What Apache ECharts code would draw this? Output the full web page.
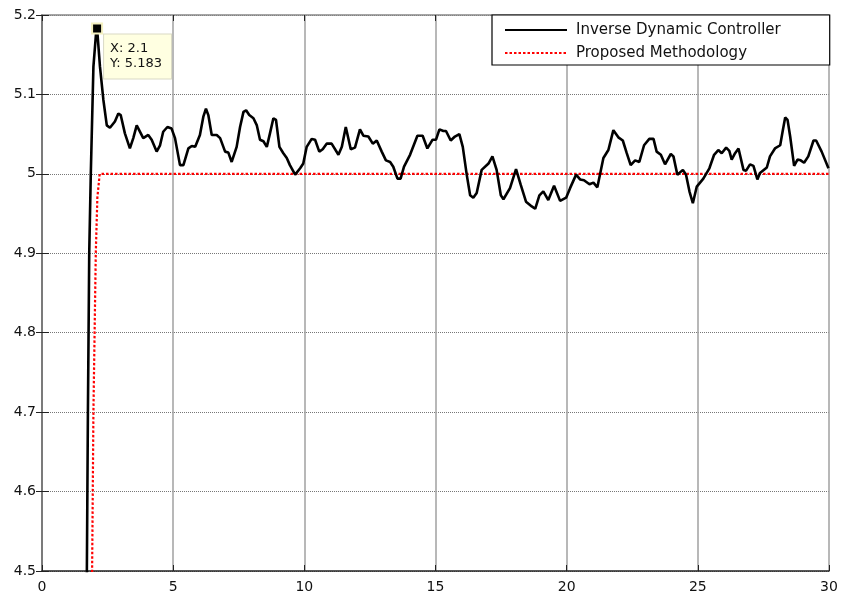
<!DOCTYPE html>
<html>
<head>
<meta charset="utf-8">
<script src="https://cdn.jsdelivr.net/npm/echarts@6/dist/echarts.min.js"></script>
<style>
  html, body { margin: 0; padding: 0; background: #fff; }
  #chart { width: 841px; height: 596px; }
</style>
</head>
<body>
<div id="chart"></div>
<script>
// Step response: inverse dynamic controller vs. proposed methodology
const seriesNames = ['Inverse Dynamic Controller', 'Proposed Methodology'];

const timeIDC = [1.66,1.71,1.75,1.80,1.86,1.96,2.06,2.1,2.21,2.34,2.47,2.59,2.78,2.91,3.0,3.16,3.35,3.48,3.61,3.67,3.86,4.05,4.18,4.37,4.50,4.62,4.78,4.94,5.07,5.26,5.39,5.58,5.71,5.84,6.02,6.15,6.25,6.34,6.47,6.66,6.79,6.98,7.10,7.23,7.29,7.42,7.55,7.68,7.78,7.90,8.06,8.19,8.31,8.44,8.57,8.69,8.82,8.92,9.05,9.20,9.33,9.45,9.65,9.84,9.96,10.09,10.28,10.41,10.57,10.70,10.85,11.04,11.30,11.43,11.58,11.77,11.93,12.12,12.25,12.44,12.61,12.76,12.95,13.11,13.27,13.39,13.55,13.67,13.80,14.03,14.31,14.51,14.69,14.89,15.02,15.15,15.30,15.40,15.58,15.74,15.91,16.04,16.19,16.32,16.44,16.57,16.76,17.02,17.17,17.33,17.49,17.59,17.84,18.07,18.25,18.45,18.67,18.80,18.96,19.11,19.30,19.52,19.75,19.98,20.13,20.36,20.51,20.66,20.87,21.02,21.17,21.40,21.59,21.78,21.97,22.14,22.29,22.44,22.61,22.77,22.95,23.15,23.31,23.43,23.59,23.75,23.97,24.07,24.22,24.43,24.55,24.68,24.81,24.96,25.21,25.44,25.62,25.78,25.91,26.08,26.20,26.29,26.42,26.55,26.74,26.84,26.99,27.12,27.27,27.37,27.63,27.75,27.94,28.14,28.24,28.33,28.42,28.52,28.67,28.80,28.92,29.05,29.21,29.41,29.51,29.72,29.98];
const valueIDC = [4.30,4.50,4.70,4.90,5.00,5.135,5.177,5.183,5.135,5.093,5.061,5.058,5.066,5.076,5.074,5.051,5.032,5.045,5.061,5.060,5.045,5.049,5.043,5.028,5.036,5.053,5.059,5.057,5.045,5.011,5.011,5.032,5.035,5.034,5.049,5.072,5.082,5.074,5.049,5.049,5.045,5.028,5.027,5.015,5.014,5.034,5.059,5.078,5.080,5.074,5.070,5.061,5.043,5.041,5.034,5.051,5.070,5.068,5.034,5.026,5.020,5.011,4.999,5.007,5.013,5.034,5.044,5.043,5.028,5.031,5.038,5.038,5.024,5.034,5.059,5.031,5.033,5.056,5.048,5.047,5.038,5.042,5.028,5.017,5.015,5.009,4.994,4.994,5.009,5.024,5.048,5.048,5.032,5.043,5.043,5.056,5.054,5.054,5.042,5.047,5.050,5.034,4.999,4.973,4.970,4.976,5.005,5.013,5.022,5.005,4.973,4.968,4.982,5.006,4.986,4.965,4.959,4.956,4.973,4.978,4.967,4.985,4.966,4.970,4.982,4.999,4.993,4.992,4.987,4.989,4.983,5.020,5.030,5.055,5.046,5.042,5.026,5.011,5.017,5.015,5.036,5.044,5.044,5.028,5.024,5.012,5.025,5.022,4.999,5.005,4.999,4.978,4.963,4.984,4.994,5.007,5.024,5.030,5.026,5.033,5.029,5.018,5.026,5.032,5.005,5.004,5.012,5.010,4.993,5.001,5.008,5.022,5.032,5.036,5.055,5.071,5.068,5.047,5.010,5.018,5.017,5.014,5.022,5.042,5.042,5.028,5.007];

const timeProposed = [1.85,1.91,1.96,2.05,2.11,2.2,30];
const valueProposed = [4.30,4.50,4.70,4.90,4.97,5.00,5.00];

// Data cursor on the overshoot peak
const peakX = 2.1;
const peakY = 5.183;

const xTicks = { min: 0, max: 30, interval: 5 };
const yTicks = { min: 4.5, max: 5.2, interval: 0.1 };

const pairs = (xs, ys) => xs.map((x, i) => [x, ys[i]]);
const FONT = 'DejaVu Sans';

const chart = echarts.init(document.getElementById('chart'), null, { renderer: 'canvas' });

const axisBase = {
  type: 'value',
  axisTick: { show: true, inside: true, length: 6, lineStyle: { color: '#222', width: 1 } },
  axisLabel: { color: '#111', fontFamily: FONT, fontSize: 14 }
};

chart.setOption({
  animation: false,
  backgroundColor: '#ffffff',
  grid: { left: 42, right: 12, top: 15, bottom: 25, containLabel: false },
  legend: {
    data: seriesNames,
    orient: 'vertical',
    left: 492,
    top: 15,
    backgroundColor: '#ffffff',
    borderColor: '#000000',
    borderWidth: 1.2,
    borderRadius: 0,
    padding: [7, 49, 4, 12],
    itemWidth: 62,
    itemHeight: 16,
    itemGap: 7,
    itemStyle: { opacity: 0 },
    textStyle: { fontFamily: FONT, fontSize: 15, color: '#111', lineHeight: 16, padding: [0, 0, 0, 4] }
  },
  xAxis: [
    Object.assign({}, axisBase, {
      position: 'bottom',
      min: xTicks.min, max: xTicks.max, interval: xTicks.interval,
      axisLine: { show: true, lineStyle: { color: '#222', width: 1.5 } },
      axisLabel: Object.assign({}, axisBase.axisLabel, { margin: 9 }),
      splitLine: { show: true, lineStyle: { color: '#a0a0a0', width: 1.5, type: 'solid' } }
    }),
    Object.assign({}, axisBase, {
      position: 'top',
      min: xTicks.min, max: xTicks.max, interval: xTicks.interval,
      axisLine: { show: true, lineStyle: { color: '#888', width: 1.5 } },
      axisLabel: { show: false },
      splitLine: { show: false }
    })
  ],
  yAxis: [
    Object.assign({}, axisBase, {
      position: 'left',
      min: yTicks.min, max: yTicks.max, interval: yTicks.interval,
      axisLine: { show: true, lineStyle: { color: '#333', width: 1.5 } },
      axisTick: { show: true, inside: true, length: 7, lineStyle: { color: '#222', width: 1 } },
      axisLabel: Object.assign({}, axisBase.axisLabel, {
        margin: 6,
        formatter: v => String(parseFloat(v.toFixed(1)))
      }),
      splitLine: { show: true, lineStyle: { color: '#777', width: 1, type: [1, 1] } }
    }),
    Object.assign({}, axisBase, {
      position: 'right',
      min: yTicks.min, max: yTicks.max, interval: yTicks.interval,
      axisLine: { show: true, lineStyle: { color: '#888', width: 1.5 } },
      axisLabel: { show: false },
      splitLine: { show: false }
    })
  ],
  series: [
    {
      name: seriesNames[1],
      type: 'line',
      xAxisIndex: 0, yAxisIndex: 0,
      data: pairs(timeProposed, valueProposed),
      showSymbol: false, symbol: 'none',
      clip: true,
      z: 2,
      lineStyle: { color: '#ff0000', width: 2.2, type: [2.5, 2] },
      itemStyle: { color: '#ff0000' }
    },
    {
      name: seriesNames[0],
      type: 'line',
      xAxisIndex: 0, yAxisIndex: 0,
      data: pairs(timeIDC, valueIDC),
      showSymbol: false, symbol: 'none',
      clip: true,
      z: 3,
      lineStyle: { color: '#000000', width: 2.6 },
      itemStyle: { color: '#000000' },
      markPoint: {
        symbol: 'rect',
        symbolSize: 10,
        silent: true,
        itemStyle: { color: '#000', borderColor: '#f4f0c0', borderWidth: 2 },
        label: {
          show: true,
          position: [13, 12],
          formatter: `X: ${peakX}\nY: ${peakY}`,
          backgroundColor: '#ffffe1',
          borderColor: '#d9d9c4',
          borderWidth: 1,
          padding: [7, 9, 7, 6],
          fontFamily: FONT,
          fontSize: 13,
          lineHeight: 15,
          color: '#111',
          align: 'left',
          verticalAlign: 'top'
        },
        data: [{ coord: [peakX, peakY] }]
      }
    }
  ]
});
</script>
</body>
</html>
